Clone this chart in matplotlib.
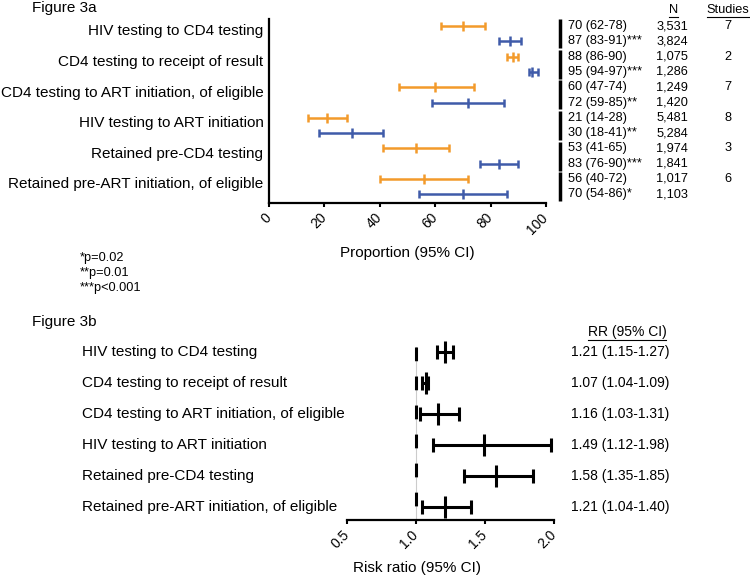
import numpy as np
import matplotlib
matplotlib.use('Agg')
import matplotlib.pyplot as plt
from matplotlib.lines import Line2D

plt.rcParams['font.family'] = ['Liberation Sans', 'DejaVu Sans']

# datos
steps = ['HIV testing to CD4 testing', 'CD4 testing to receipt of result',
         'CD4 testing to ART initiation, of eligible', 'HIV testing to ART initiation',
         'Retained pre-CD4 testing', 'Retained pre-ART initiation, of eligible']
# 3a: naranja = primera fila de cada par, azul = segunda
prop_orange = [70, 88, 60, 21, 53, 56]
lo_orange = [62, 86, 47, 14, 41, 40]
hi_orange = [78, 90, 74, 28, 65, 72]
prop_blue = [87, 95, 72, 30, 83, 70]
lo_blue = [83, 94, 59, 18, 76, 54]
hi_blue = [91, 97, 85, 41, 90, 86]
txt_orange = ['70 (62-78)', '88 (86-90)', '60 (47-74)', '21 (14-28)', '53 (41-65)', '56 (40-72)']
txt_blue = ['87 (83-91)***', '95 (94-97)***', '72 (59-85)**', '30 (18-41)**', '83 (76-90)***', '70 (54-86)*']
n_orange = ['3,531', '1,075', '1,249', '5,481', '1,974', '1,017']
n_blue = ['3,824', '1,286', '1,420', '5,284', '1,841', '1,103']
studies = ['7', '2', '7', '8', '3', '6']
footnotes = ['*p=0.02', '**p=0.01', '***p<0.001']
# 3b
rr = [1.21, 1.07, 1.16, 1.49, 1.58, 1.21]
rr_lo = [1.15, 1.04, 1.03, 1.12, 1.35, 1.04]
rr_hi = [1.27, 1.09, 1.31, 1.98, 1.85, 1.40]
rr_txt = ['1.21 (1.15-1.27)', '1.07 (1.04-1.09)', '1.16 (1.03-1.31)',
          '1.49 (1.12-1.98)', '1.58 (1.35-1.85)', '1.21 (1.04-1.40)']

ORANGE = '#F39A2B'
BLUE = '#3F5BA9'
W, H = 750, 576

fig = plt.figure(figsize=(7.5, 5.76), dpi=100)

def fx(px):
    return px / W

def fy(py):
    return 1 - py / H

# ---------- Figure 3a ----------
ax = fig.add_axes([fx(269), fy(203), fx(546) - fx(269), fy(19) - fy(203)])
ya = np.arange(6) * 2
yb = ya + 1
ax.errorbar(prop_orange, ya, xerr=[np.subtract(prop_orange, lo_orange), np.subtract(hi_orange, prop_orange)],
            fmt='|', color=ORANGE, ms=7, mew=1.8, elinewidth=1.8, capsize=3, capthick=1.8)
ax.errorbar(prop_blue, yb, xerr=[np.subtract(prop_blue, lo_blue), np.subtract(hi_blue, prop_blue)],
            fmt='|', color=BLUE, ms=7, mew=1.8, elinewidth=1.8, capsize=3, capthick=1.8)
ax.set_xlim(0, 100)
ax.set_ylim(11.57, -0.46)
ax.set_xticks([0, 20, 40, 60, 80, 100])
ax.set_xticklabels(['0', '20', '40', '60', '80', '100'], rotation=45, ha='right',
                   va='center', rotation_mode='anchor', fontsize=10)
ax.set_yticks(ya + 0.25)
ax.set_yticklabels(steps, fontsize=11)
ax.tick_params(axis='y', length=0, pad=4)
ax.tick_params(axis='x', length=3, width=1.5, direction='out', pad=6)
for s in ['top', 'right']:
    ax.spines[s].set_visible(False)
ax.spines['left'].set_linewidth(1.6)
ax.spines['bottom'].set_linewidth(1.6)

tr = ax.get_yaxis_transform()
for i in range(6):
    ax.plot([1.05, 1.05], [ya[i] - 0.45, yb[i] + 0.45], color='black', lw=2.5,
            transform=tr, clip_on=False, solid_capstyle='butt')
    ax.text(1.08, ya[i], txt_orange[i], transform=tr, va='center', ha='left', fontsize=9.2)
    ax.text(1.08, yb[i], txt_blue[i], transform=tr, va='center', ha='left', fontsize=9.2)
    ax.text(1.513, ya[i], n_orange[i], transform=tr, va='center', ha='right', fontsize=9.2)
    ax.text(1.513, yb[i], n_blue[i], transform=tr, va='center', ha='right', fontsize=9.2)
    ax.text(1.657, ya[i], studies[i], transform=tr, va='center', ha='center', fontsize=9.2)

hN = ax.text(1.46, -1.05, 'N', transform=tr, va='center', ha='center', fontsize=9.2)
hS = ax.text(1.657, -1.05, 'Studies', transform=tr, va='center', ha='center', fontsize=9.2)

fig.text(fx(407), fy(253), 'Proportion (95% CI)', ha='center', va='center', fontsize=11)
fig.text(fx(32), fy(8), 'Figure 3a', ha='left', va='center', fontsize=11)
for k, t in enumerate(footnotes):
    fig.text(fx(80), fy(258 + 15 * k), t, ha='left', va='center', fontsize=9.2)

# ---------- Figure 3b ----------
bx = fig.add_axes([fx(347), fy(520), fx(554) - fx(347), fy(340) - fy(520)])
yr = np.arange(6)
bx.plot([1.0, 1.0], [-0.16, 5.42], color='#cccccc', lw=0.8, zorder=1)
dl, = bx.plot([1.0, 1.0], [-0.16, 5.42], color='black', lw=2.2, zorder=2)
dl.set_dashes((4.5, 5))
bx.errorbar(rr, yr, xerr=[np.subtract(rr, rr_lo), np.subtract(rr_hi, rr)],
            fmt='|', color='black', ms=16, mew=2.2, elinewidth=2.2, capsize=4.7, capthick=2.2, zorder=3)
bx.set_xlim(0.5, 2.0)
bx.set_ylim(5.42, -0.39)
bx.set_xticks([0.5, 1.0, 1.5, 2.0])
bx.set_xticklabels(['0.5', '1.0', '1.5', '2.0'], rotation=45, ha='right',
                   va='center', rotation_mode='anchor', fontsize=10)
bx.set_yticks([])
bx.tick_params(axis='x', length=3, width=1.5, direction='out', pad=6)
for s in ['top', 'right', 'left']:
    bx.spines[s].set_visible(False)
bx.spines['bottom'].set_linewidth(1.6)

tr2 = bx.get_yaxis_transform()
for i in range(6):
    bx.text(-1.28, yr[i], steps[i], transform=tr2, va='center', ha='left', fontsize=11)
    bx.text(1.082, yr[i], rr_txt[i], transform=tr2, va='center', ha='left', fontsize=10)
hR = bx.text(1.353, -0.65, 'RR (95% CI)', transform=tr2, va='center', ha='center', fontsize=10)

fig.text(fx(417), fy(568), 'Risk ratio (95% CI)', ha='center', va='center', fontsize=11)
fig.text(fx(32), fy(322), 'Figure 3b', ha='left', va='center', fontsize=11)

# subrayados de las cabeceras
fig.canvas.draw()
rend = fig.canvas.get_renderer()
for t in [hN, hS, hR]:
    bb = t.get_window_extent(rend)
    yy = bb.y0 - 1
    fig.add_artist(Line2D([bb.x0 / W, bb.x1 / W], [yy / H, yy / H], color='black', lw=0.8))

fig.savefig('out.png', dpi=100)
